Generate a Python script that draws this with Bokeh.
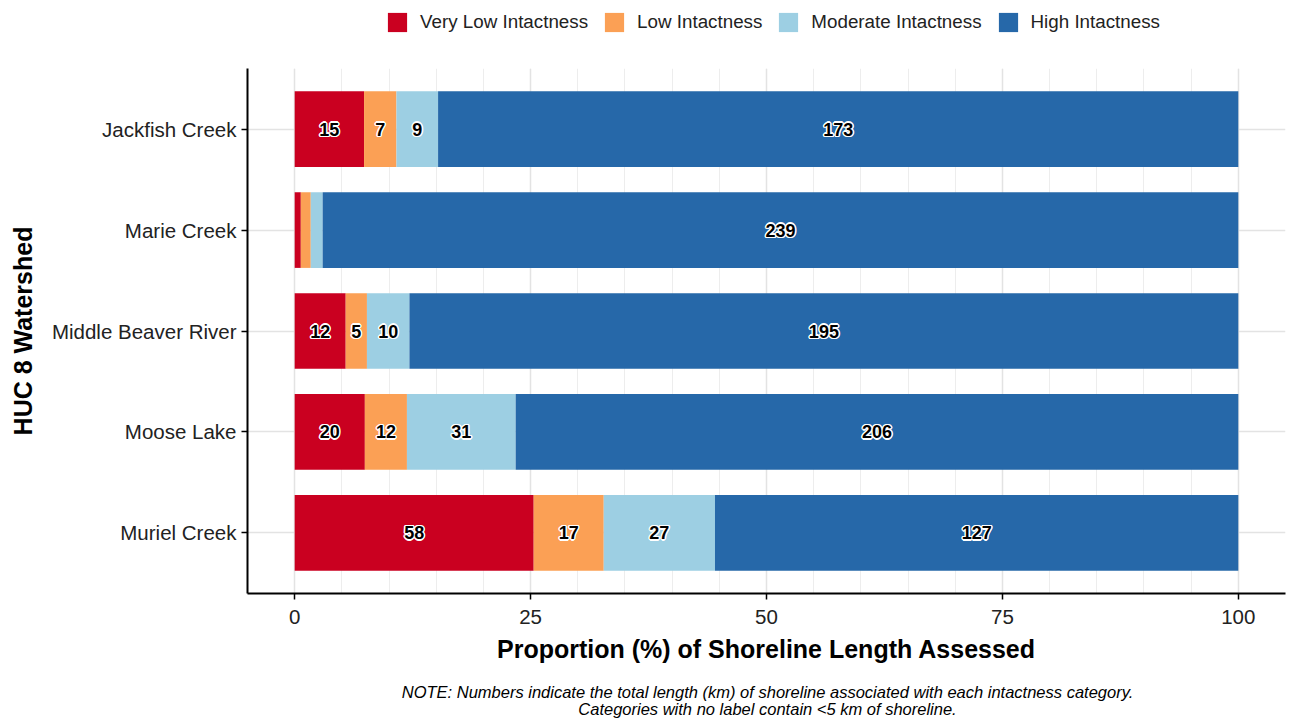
from bokeh.plotting import figure
from bokeh.layouts import column
from bokeh.models import (ColumnDataSource, FactorRange, Range1d, SingleIntervalTicker,
                          Legend, LegendItem, Label)
from bokeh.core.properties import value
from bokeh.embed import file_html
from bokeh.resources import INLINE

# ---- data (km of shoreline per intactness category) ----
watersheds = ["Jackfish Creek", "Marie Creek", "Middle Beaver River", "Moose Lake", "Muriel Creek"]
very_low = [15, 1.6, 12, 20, 58]
low = [7, 2.6, 5, 12, 17]
moderate = [9, 3.1, 10, 31, 27]
high = [173, 239, 195, 206, 127]
categories = ["Very Low Intactness", "Low Intactness", "Moderate Intactness", "High Intactness"]
colors = ["#CA0020", "#FBA055", "#9DCFE3", "#2668A9"]
note1 = "NOTE: Numbers indicate the total length (km) of shoreline associated with each intactness category."
note2 = "Categories with no label contain <5 km of shoreline."

FONT = "Liberation Sans"
W = 1289
BL, BR = 247, 4          # shared left / right borders (frames are aligned in the column)

series = [very_low, low, moderate, high]
totals = [sum(v) for v in zip(*series)]

lefts, rights = [], []
cum = [0.0] * len(watersheds)
for s in series:
    pr = [100.0 * v / t for v, t in zip(s, totals)]
    lefts.append(list(cum))
    cum = [c + q for c, q in zip(cum, pr)]
    rights.append(list(cum))

factors = list(reversed(watersheds))

# ---------------- main plot ----------------
p = figure(width=W, height=624, output_backend="svg", toolbar_location=None,
           y_range=FactorRange(factors=factors, range_padding=0.1, range_padding_units="absolute"),
           x_range=Range1d(-5, 105),
           min_border_left=BL, min_border_right=BR, min_border_top=20, min_border_bottom=79)
p.outline_line_color = None
p.background_fill_color = "white"

for i, (cat, col) in enumerate(zip(categories, colors)):
    src = ColumnDataSource(dict(y=watersheds, left=lefts[i], right=rights[i]))
    p.hbar(y="y", left="left", right="right", height=0.75, source=src,
           fill_color=col, line_color=None)

# value labels (black text with white halo)
lx, ly, lt = [], [], []
for i, s in enumerate(series):
    for j, v in enumerate(s):
        if v >= 5:
            lx.append((lefts[i][j] + rights[i][j]) / 2)
            ly.append(watersheds[j])
            lt.append(str(int(round(v))))
lsrc = ColumnDataSource(dict(x=lx, y=ly, t=lt))
offsets = [(-1.5, 0), (1.5, 0), (0, -1.5), (0, 1.5), (-1, -1), (1, 1), (-1, 1), (1, -1)]
for dx, dy in offsets:
    p.text(x="x", y="y", text="t", source=lsrc, x_offset=dx, y_offset=dy,
           text_align="center", text_baseline="middle", text_color="white",
           text_font=value(FONT), text_font_style="bold", text_font_size="18px")
p.text(x="x", y="y", text="t", source=lsrc, text_align="center", text_baseline="middle",
       text_color="black", text_font=value(FONT), text_font_style="bold", text_font_size="18px")

# axes
p.xaxis.ticker = SingleIntervalTicker(interval=25, num_minor_ticks=5)
p.xaxis.axis_label = "Proportion (%) of Shoreline Length Assessed"
p.yaxis.axis_label = "HUC 8 Watershed"
for ax in (p.xaxis[0], p.yaxis[0]):
    ax.axis_line_color = "black"
    ax.axis_line_width = 2
    ax.major_tick_line_color = "black"
    ax.major_tick_line_width = 1.5
    ax.major_tick_out = 6
    ax.major_tick_in = 0
    ax.minor_tick_out = 0
    ax.minor_tick_in = 0
    ax.major_label_text_font = FONT
    ax.major_label_text_font_size = "20.5px"
    ax.major_label_text_color = "#222222"
    ax.axis_label_text_font = FONT
    ax.axis_label_text_font_size = "25px"
    ax.axis_label_text_font_style = "bold"
    ax.axis_label_text_color = "black"
p.xaxis.major_label_standoff = 10
p.xaxis.axis_label_standoff = 8
p.yaxis.major_label_standoff = 5
p.yaxis.axis_label_standoff = 12

p.xgrid.grid_line_color = "#E3E3E3"
p.xgrid.grid_line_width = 1.5
p.xgrid.minor_grid_line_color = "#EDEDED"
p.xgrid.minor_grid_line_width = 1
p.ygrid.grid_line_color = "#E3E3E3"
p.ygrid.grid_line_width = 1.5

# ---------------- legend strip ----------------
lf = figure(width=W, height=48, output_backend="svg", toolbar_location=None,
            x_axis_location=None, y_axis_location=None,
            min_border_left=BL, min_border_right=BR, min_border_top=0, min_border_bottom=0,
            x_range=Range1d(0, 1), y_range=Range1d(0, 1))
lf.outline_line_color = None
lf.xgrid.grid_line_color = None
lf.ygrid.grid_line_color = None
swatches = []
for col in colors:
    # off-frame dummy bars, used only as legend swatches
    swatches.append(lf.hbar(y=[-5], left=[0], right=[1], height=1, fill_color=col, line_color=None))
legend = Legend(items=[LegendItem(label=c, renderers=[r]) for c, r in zip(categories, swatches)],
                orientation="horizontal", location=(385 - BL, 14),
                glyph_width=24, glyph_height=24, label_standoff=11, spacing=14,
                padding=0, margin=0, border_line_color=None, background_fill_alpha=0,
                label_text_font=FONT, label_text_font_size="18.8px", label_text_color="#222222")
lf.add_layout(legend)

# ---------------- note strip ----------------
nf = figure(width=W, height=48, output_backend="svg", toolbar_location=None,
            x_axis_location=None, y_axis_location=None,
            min_border_left=BL, min_border_right=BR, min_border_top=0, min_border_bottom=0,
            x_range=Range1d(BL, W - BR), y_range=Range1d(0, 48))
nf.outline_line_color = None
nf.xgrid.grid_line_color = None
nf.ygrid.grid_line_color = None
for txt, yy in ((note1, 29), (note2, 12)):
    nf.add_layout(Label(x=767, y=yy, text=txt, text_align="center", text_baseline="middle",
                        text_font=FONT, text_font_style="italic", text_font_size="16.5px",
                        text_color="black"))

layout = column(lf, p, nf, spacing=0)
open("out.html", "w").write(file_html(layout, INLINE))
